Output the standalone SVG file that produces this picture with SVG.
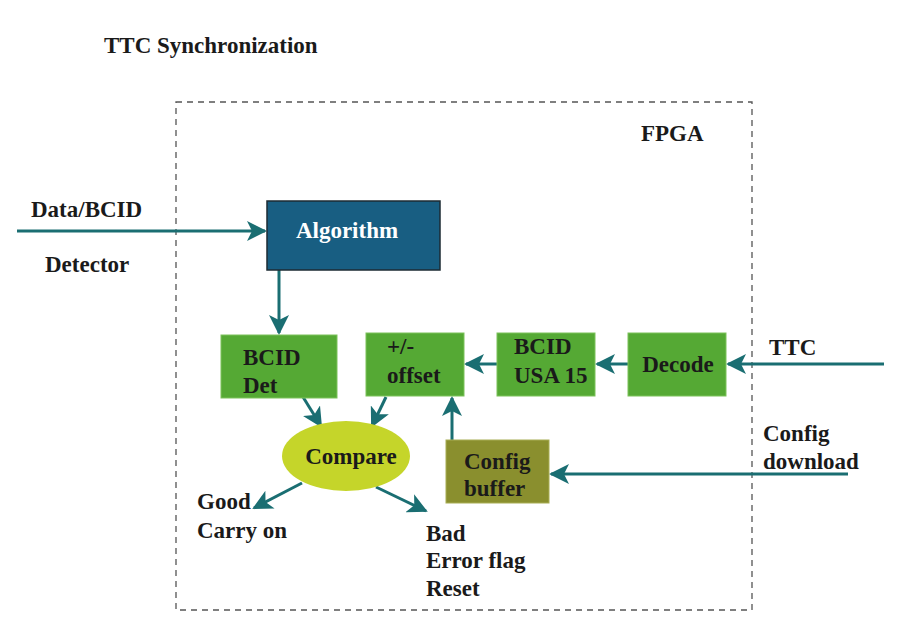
<svg xmlns="http://www.w3.org/2000/svg" width="900" height="639" viewBox="0 0 900 639">
<style>
text{font-family:"Liberation Serif","Times New Roman",serif;font-weight:bold;font-size:23px;fill:#1a1a1a}
.w{fill:#ffffff}
.g{fill:#55a934;stroke:#7cc25a;stroke-width:1}
.c{stroke:#1a6e72;stroke-width:3;fill:none}
</style>
<defs>
<marker id="ah" viewBox="0 0 20 20" refX="18" refY="10" markerWidth="20" markerHeight="20" markerUnits="userSpaceOnUse" orient="auto">
<path d="M0,0 L20,10 L0,20 L5,10 Z" fill="#1a6e72"/>
</marker>
</defs>
<rect width="900" height="639" fill="#ffffff"/>
<text x="104" y="53">TTC Synchronization</text>
<rect id="fpga-border" x="176" y="102" width="576" height="508" fill="none" stroke="#555" stroke-width="1.3" stroke-dasharray="6,5"/>
<text x="641" y="141">FPGA</text>
<g id="connectors">
<line class="c" x1="17" y1="231" x2="265" y2="231" marker-end="url(#ah)"/>
<line class="c" x1="279" y1="270" x2="279" y2="333" marker-end="url(#ah)"/>
<line class="c" x1="884" y1="364" x2="728" y2="364" marker-end="url(#ah)"/>
<line class="c" x1="628" y1="364" x2="597" y2="364" marker-end="url(#ah)"/>
<line class="c" x1="497" y1="364" x2="466" y2="364" marker-end="url(#ah)"/>
<line class="c" x1="848" y1="474" x2="551" y2="474" marker-end="url(#ah)"/>
<line class="c" x1="452" y1="440" x2="452" y2="398" marker-end="url(#ah)"/>
<line class="c" x1="303" y1="397" x2="321" y2="426" marker-end="url(#ah)"/>
<line class="c" x1="386" y1="397" x2="372" y2="426" marker-end="url(#ah)"/>
<line class="c" x1="302" y1="483" x2="254" y2="508" marker-end="url(#ah)"/>
<line class="c" x1="376" y1="487" x2="426" y2="511" marker-end="url(#ah)"/>
</g>
<g id="labels">
<text x="31" y="217">Data/BCID</text>
<text x="45" y="272">Detector</text>
<text x="769" y="355">TTC</text>
<text x="763" y="441">Config</text>
<text x="763" y="469">download</text>
<text x="197" y="509">Good</text>
<text x="197" y="538">Carry on</text>
<text x="426" y="541">Bad</text>
<text x="426" y="568">Error flag</text>
<text x="426" y="596">Reset</text>
</g>
<g id="algorithm">
<rect x="267" y="201" width="173" height="69" fill="#185e82" stroke="#1d2b33" stroke-width="1.5"/>
<text class="w" x="347" y="238" text-anchor="middle">Algorithm</text>
</g>
<g id="bcid-det">
<rect class="g" x="221" y="335" width="116" height="63"/>
<text x="243" y="365">BCID</text>
<text x="243" y="393">Det</text>
</g>
<g id="offset">
<rect class="g" x="366" y="333" width="98" height="63"/>
<text x="387" y="354">+/-</text>
<text x="387" y="383">offset</text>
</g>
<g id="bcid-usa15">
<rect class="g" x="497" y="333" width="98" height="63"/>
<text x="514" y="354">BCID</text>
<text x="514" y="383">USA 15</text>
</g>
<g id="decode">
<rect class="g" x="628" y="333" width="98" height="63"/>
<text x="678" y="372" text-anchor="middle">Decode</text>
</g>
<g id="config-buffer">
<rect x="446" y="440" width="103" height="63" fill="#8a8f2e" stroke="#a8ad55" stroke-width="1"/>
<text x="464" y="469">Config</text>
<text x="464" y="496">buffer</text>
</g>
<g id="compare">
<ellipse cx="346" cy="456" rx="64" ry="35" fill="#c5d52a"/>
<text x="351" y="464" text-anchor="middle">Compare</text>
</g>
</svg>
